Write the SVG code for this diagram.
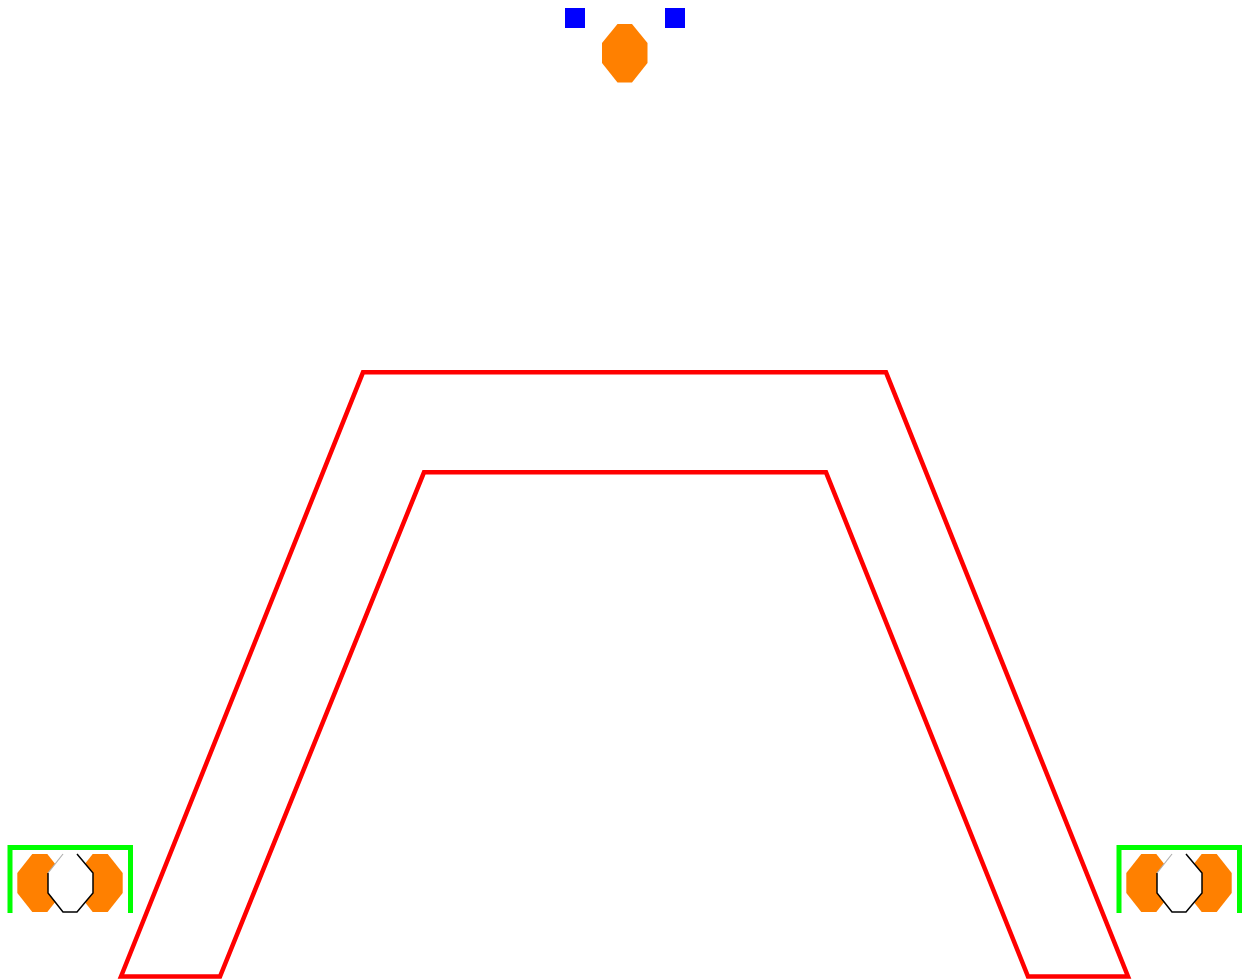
<svg xmlns="http://www.w3.org/2000/svg" width="1243" height="980" viewBox="0 0 1243 980">
<style>
.sq{fill:#0000ff}
.oct{fill:#ff8000}
.wo{fill:#ffffff}
.edge{fill:none;stroke:#000000;stroke-width:1.5}
.edgel{fill:none;stroke:#b0b0b0;stroke-width:1.2}
.brk{fill:none;stroke:#00ff00;stroke-width:5}
.wall{fill:none;stroke:#ff0000;stroke-width:4.5}
</style>
<defs>
<polygon id="octshape" points="15,0 30,0 45,19 45,39 30,58 15,58 0,39 0,19"/>
<g id="unit">
<path class="brk" d="M10,913 V847.5 H130.5 V913"/>
<use href="#octshape" class="oct" x="17.3" y="854"/>
<use href="#octshape" class="oct" x="77.7" y="854"/>
<use href="#octshape" class="wo" x="48" y="854"/>
<polyline class="edge" points="77,854 93,873 93,893 77,912 63,912 48,893 48,873"/>
<line class="edgel" x1="48" y1="873" x2="63" y2="854"/>
</g>
</defs>
<g id="wall">
<polygon class="wall" points="121,976.5 363,372.3 886,372.3 1128,976.5 1028,976.5 826,472.3 424,472.3 220,976.5"/>
</g>
<g id="top-node">
<rect class="sq" x="565" y="8" width="20" height="20"/>
<rect class="sq" x="665" y="8" width="20" height="20"/>
<polygon class="oct" points="617.5,24 632,24 647.5,43 647.5,63 632,82.5 617.5,82.5 602,63 602,43"/>
</g>
<g id="left-node">
<use href="#unit"/>
</g>
<g id="right-node">
<use href="#unit" x="1109"/>
</g>
<g id="connectors"/>
</svg>
